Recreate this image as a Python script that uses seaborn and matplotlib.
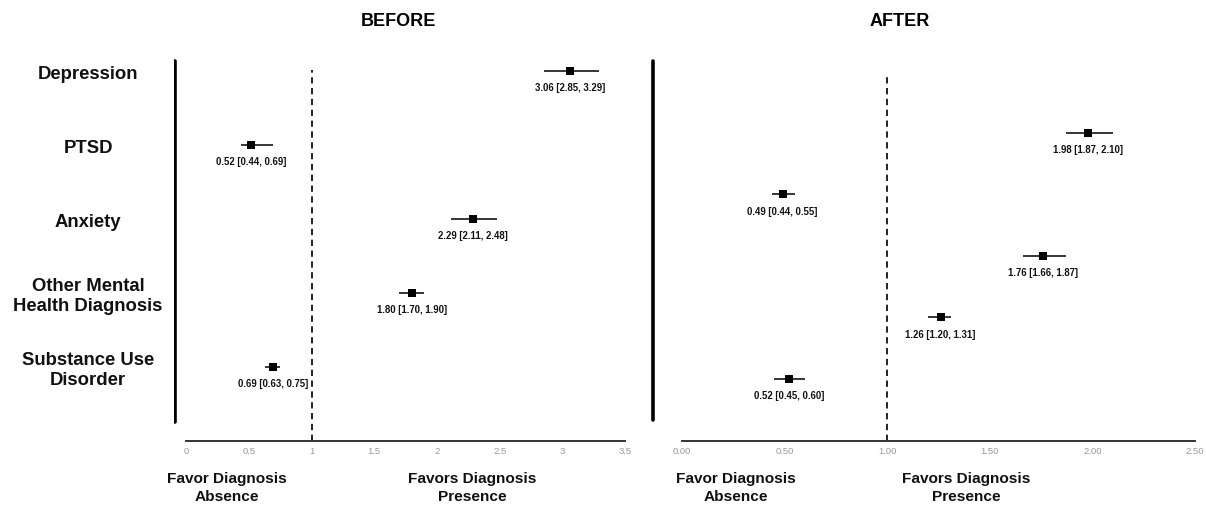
import numpy as np
import pandas as pd
import matplotlib
matplotlib.use('Agg')
import matplotlib.pyplot as plt
import matplotlib.transforms as mtransforms
import seaborn as sns

# data
conditions = ['Depression', 'PTSD', 'Anxiety', 'Other Mental\nHealth Diagnosis', 'Substance Use\nDisorder']

before_or = [3.06, 0.52, 2.29, 1.80, 0.69]
before_lo = [2.85, 0.44, 2.11, 1.70, 0.63]
before_hi = [3.29, 0.69, 2.48, 1.90, 0.75]

after_or = [1.98, 0.49, 1.76, 1.26, 0.52]
after_lo = [1.87, 0.44, 1.66, 1.20, 0.45]
after_hi = [2.10, 0.55, 1.87, 1.31, 0.60]

before_ticks = [0, 0.5, 1, 1.5, 2, 2.5, 3, 3.5]
before_ticklabels = ['0', '0.5', '1', '1.5', '2', '2.5', '3', '3.5']
after_ticks = [0, 0.5, 1, 1.5, 2, 2.5]
after_ticklabels = ['0.00', '0.50', '1.00', '1.50', '2.00', '2.50']

sns.set_theme(style='white')
plt.rcParams['font.family'] = ['Liberation Sans', 'DejaVu Sans']
plt.rcParams['text.color'] = '#111111'

fig = plt.figure(figsize=(12.06, 5.07), dpi=100)
ax1 = fig.add_axes([0.1439, 0.1302, 0.3744, 0.7613])
ax2 = fig.add_axes([0.5400, 0.1302, 0.4509, 0.7613])


def forest(ax, est, lo, hi, ticks, ticklabels, xlim, ylim, rule_x, line_span, dash_top):
    df = pd.DataFrame({'row': np.arange(len(est)), 'est': est, 'lo': lo, 'hi': hi})
    ax.errorbar(df['est'], df['row'],
                xerr=[df['est'] - df['lo'], df['hi'] - df['est']],
                fmt='none', ecolor='black', elinewidth=1.1, capsize=0, zorder=2)
    sns.scatterplot(data=df, x='est', y='row', marker='s', s=36, color='black',
                    edgecolor='black', linewidth=0, ax=ax, zorder=3)
    for _, r in df.iterrows():
        ax.annotate(f"{r['est']:.2f} [{r['lo']:.2f}, {r['hi']:.2f}]",
                    (r['est'], r['row']), xytext=(0, -12.5), textcoords='offset points',
                    ha='center', va='center', fontsize=6.9, fontweight='bold', color='#111111')
    ax.set_xlim(*xlim)
    ax.set_ylim(*ylim)
    # reference line at OR = 1 and the thick left rule
    ax.axvline(1, ymin=0, ymax=dash_top, color='#111111', lw=1.3, ls=(0, (3.5, 2.5)), zorder=1)
    ax.axvline(rule_x, ymin=line_span[0], ymax=line_span[1], color='black', lw=2.6)
    for s in ['top', 'right', 'left']:
        ax.spines[s].set_visible(False)
    ax.spines['bottom'].set_bounds(ticks[0], ticks[-1])
    ax.spines['bottom'].set_color('#333333')
    ax.spines['bottom'].set_linewidth(1.4)
    ax.set_xticks(ticks)
    ax.set_xticklabels(ticklabels)
    ax.tick_params(axis='x', length=0, pad=4, labelsize=6.8, labelcolor='#9a9a9a')
    ax.set_yticks([])
    ax.set_xlabel('')
    ax.set_ylabel('')


forest(ax1, before_or, before_lo, before_hi, before_ticks, before_ticklabels,
       (-0.1, 3.5), (5.0, -0.216), -0.088, (0.049, 0.984), 0.961)
forest(ax2, after_or, after_lo, after_hi, after_ticks, after_ticklabels,
       (-0.15, 2.5), (5.008, -1.268), -0.14, (0.054, 0.984), 0.948)

# row labels on the left of the first panel
trans = mtransforms.blended_transform_factory(fig.transFigure, ax1.transData)
for i, name in enumerate(conditions):
    ax1.text(0.073, i + 0.05, name, transform=trans, ha='center', va='center',
             fontsize=13.3, fontweight='bold', linespacing=1.25, color='#111111')

# panel titles
fig.text(0.330, 0.957, 'BEFORE', ha='center', va='center', fontsize=13, fontweight='bold',
         color='black')
fig.text(0.746, 0.957, 'AFTER', ha='center', va='center', fontsize=13, fontweight='bold',
         color='black')

# direction labels below the axes
bottom = [(227, 'Favor Diagnosis\nAbsence'), (472, 'Favors Diagnosis\nPresence'),
          (736, 'Favor Diagnosis\nAbsence'), (966, 'Favors Diagnosis\nPresence')]
for px, txt in bottom:
    fig.text(px / 1206, 1 - 488 / 507, txt, ha='center', va='center', fontsize=11.1,
             fontweight='bold', linespacing=1.35, color='#111111')

fig.savefig('out.png', dpi=100)
